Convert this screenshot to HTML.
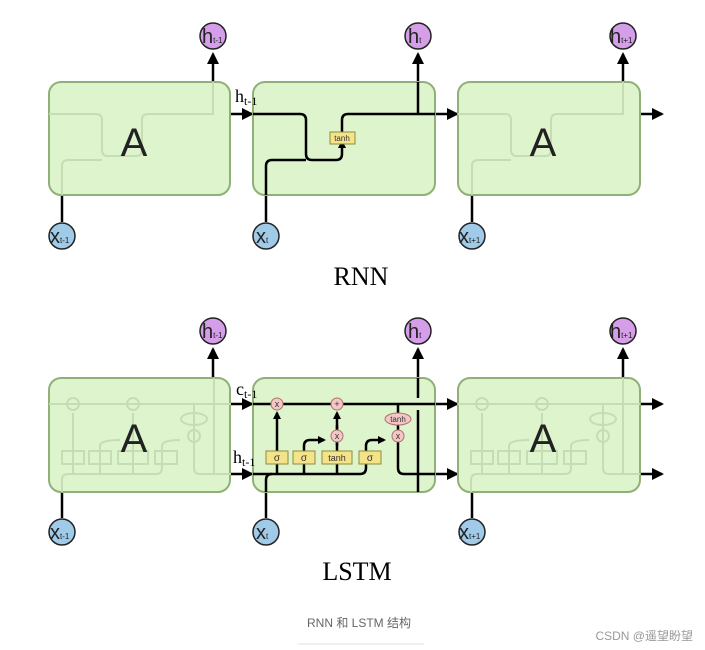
<!DOCTYPE html>
<html><head><meta charset="utf-8"><style>
body{margin:0;background:#fff;width:705px;height:650px;overflow:hidden}
svg{display:block}
</style></head><body>
<svg width="705" height="650" viewBox="0 0 705 650" xmlns="http://www.w3.org/2000/svg" font-family="Liberation Sans, sans-serif">
<defs>
<marker id="a" markerWidth="8" markerHeight="8" refX="6" refY="4" orient="auto" markerUnits="userSpaceOnUse"><path d="M0,0 L8,4 L0,8 z" fill="#000"/></marker>
<marker id="b" markerWidth="12" markerHeight="12" refX="10" refY="6" orient="auto" markerUnits="userSpaceOnUse"><path d="M0,0 L12,6 L0,12 z" fill="#000"/></marker>
</defs>
<g stroke="#000" stroke-width="2.5" fill="none">
<line x1="213" y1="82" x2="213" y2="54" marker-end="url(#b)"/>
<line x1="418" y1="114" x2="418" y2="54" marker-end="url(#b)"/>
<line x1="623" y1="82" x2="623" y2="54" marker-end="url(#b)"/>
<line x1="230" y1="114" x2="252" y2="114" marker-end="url(#b)"/>
<line x1="435" y1="114" x2="457" y2="114" marker-end="url(#b)"/>
<line x1="640" y1="114" x2="662" y2="114" marker-end="url(#b)"/>
<line x1="62" y1="195" x2="62" y2="222"/>
<line x1="472" y1="195" x2="472" y2="222"/>
<line x1="266" y1="195" x2="266" y2="222"/>
<line x1="213" y1="378" x2="213" y2="349" marker-end="url(#b)"/>
<line x1="623" y1="378" x2="623" y2="349" marker-end="url(#b)"/>
<line x1="418" y1="378" x2="418" y2="349" marker-end="url(#b)"/>
<line x1="230" y1="404" x2="252" y2="404" marker-end="url(#b)"/>
<line x1="230" y1="474" x2="252" y2="474" marker-end="url(#b)"/>
<line x1="435" y1="404" x2="457" y2="404" marker-end="url(#b)"/>
<line x1="435" y1="474" x2="457" y2="474" marker-end="url(#b)"/>
<line x1="640" y1="404" x2="662" y2="404" marker-end="url(#b)"/>
<line x1="640" y1="474" x2="662" y2="474" marker-end="url(#b)"/>
<line x1="62" y1="492" x2="62" y2="518"/>
<line x1="472" y1="492" x2="472" y2="518"/>
<line x1="266" y1="492" x2="266" y2="518"/>
</g>
<g fill="#def4cd" stroke="#8fb077" stroke-width="2">
<rect x="49" y="82" width="181" height="113" rx="12"/>
<rect x="253" y="82" width="182" height="113" rx="12"/>
<rect x="458" y="82" width="182" height="113" rx="12"/>
<rect x="49" y="378" width="181" height="114" rx="12"/>
<rect x="253" y="378" width="182" height="114" rx="12"/>
<rect x="458" y="378" width="182" height="114" rx="12"/>
</g>
<!-- faint internals -->
<g stroke="#c6dcb4" stroke-width="2" fill="none">
<path d="M49,114 H96 Q102,114 102,120 V150 Q102,156 108,156 H136 Q142,156 142,150 V120 Q142,114 148,114 H213 V82"/>
<path d="M62,195 V166 Q62,160 68,160 H102"/>
<path d="M458,114 H505 Q511,114 511,120 V150 Q511,156 517,156 H545 Q551,156 551,150 V120 Q551,114 557,114 H623 V82"/>
<path d="M472,195 V166 Q472,160 478,160 H511"/>
<g transform="translate(-204,0)">
<path d="M253,404 H435 M266,492 V480 Q266,474 272,474 H360 Q366,474 366,468 V446 Q366,440 384,440 M277,474 V413 M304,474 V446 Q304,440 324,440 M337,474 V413 M398,404 V468 Q398,474 404,474 H435 M418,378 V474"/>
<rect x="266" y="451" width="22" height="13"/><rect x="293" y="451" width="22" height="13"/><rect x="322" y="451" width="30" height="13"/><rect x="359" y="451" width="22" height="13"/>
<circle cx="277" cy="404" r="6"/><circle cx="337" cy="404" r="6"/><circle cx="398" cy="436" r="6"/><ellipse cx="398" cy="419" rx="13" ry="6"/>
</g>
<g transform="translate(205,0)">
<path d="M253,404 H435 M266,492 V480 Q266,474 272,474 H360 Q366,474 366,468 V446 Q366,440 384,440 M277,474 V413 M304,474 V446 Q304,440 324,440 M337,474 V413 M398,404 V468 Q398,474 404,474 H435 M418,378 V474"/>
<rect x="266" y="451" width="22" height="13"/><rect x="293" y="451" width="22" height="13"/><rect x="322" y="451" width="30" height="13"/><rect x="359" y="451" width="22" height="13"/>
<circle cx="277" cy="404" r="6"/><circle cx="337" cy="404" r="6"/><circle cx="398" cy="436" r="6"/><ellipse cx="398" cy="419" rx="13" ry="6"/>
</g>
</g>
<g stroke="#000" stroke-width="2.5" fill="none">
<path d="M253,114 H300 Q306,114 306,120 V154 Q306,160 312,160 H336 Q342,160 342,154 V142" marker-end="url(#a)"/>
<path d="M266,195 V166 Q266,160 272,160 H306"/>
<path d="M342,133 V120 Q342,114 348,114 H435"/>
<line x1="418" y1="114" x2="418" y2="82"/>
<line x1="253" y1="404" x2="435" y2="404"/>
<path d="M266,492 V480 Q266,474 272,474 H360 Q366,474 366,468 V446 Q366,440 372,440 H384" marker-end="url(#a)"/>
<line x1="253" y1="474" x2="272" y2="474"/>
<line x1="277" y1="474" x2="277" y2="413" marker-end="url(#a)"/>
<path d="M304,474 V446 Q304,440 310,440 H324" marker-end="url(#a)"/>
<line x1="337" y1="474" x2="337" y2="413" marker-end="url(#a)"/>
<line x1="337" y1="446" x2="337" y2="425"/>
<line x1="398" y1="404" x2="398" y2="430"/>
<path d="M398,442 V468 Q398,474 404,474 H435"/>
<line x1="418" y1="492" x2="418" y2="410"/>
<line x1="418" y1="398" x2="418" y2="378"/>
</g>
<g stroke="#8c8c3c" stroke-width="1" fill="#f5e38a">
<rect x="330" y="132" width="25" height="12"/>
<rect x="266" y="451" width="22" height="13"/>
<rect x="293" y="451" width="22" height="13"/>
<rect x="322" y="451" width="30" height="13"/>
<rect x="359" y="451" width="22" height="13"/>
</g>
<g font-size="10" text-anchor="middle" fill="#333">
<text x="342" y="141" font-size="8">tanh</text>
<text x="277" y="461">σ</text><text x="304" y="461">σ</text>
<text x="337" y="461" font-size="9">tanh</text><text x="370" y="461">σ</text>
</g>
<g stroke="#b07070" stroke-width="1" fill="#f4c7c7">
<circle cx="277" cy="404" r="6"/><circle cx="337" cy="404" r="6"/>
<circle cx="337" cy="436" r="6"/><circle cx="398" cy="436" r="6"/>
<ellipse cx="398" cy="419" rx="13" ry="6"/>
</g>
<g font-size="9" text-anchor="middle" fill="#333">
<text x="277" y="407">x</text><text x="337" y="407">+</text>
<text x="337" y="439">x</text><text x="398" y="439">x</text>
<text x="398" y="422" font-size="8">tanh</text>
</g>
<g font-size="40" text-anchor="middle" fill="#222">
<text x="134" y="156">A</text><text x="543" y="156">A</text>
<text x="134" y="452">A</text><text x="543" y="452">A</text>
</g>
<g stroke="#222" stroke-width="1.5">
<g fill="#d59ee8">
<circle cx="213" cy="36" r="13"/><circle cx="418" cy="36" r="13"/><circle cx="623" cy="36" r="13"/>
<circle cx="213" cy="331" r="13"/><circle cx="418" cy="331" r="13"/><circle cx="623" cy="331" r="13"/>
</g>
<g fill="#9fcbe8">
<circle cx="62" cy="236" r="13"/><circle cx="266" cy="236" r="13"/><circle cx="472" cy="236" r="13"/>
<circle cx="62" cy="532" r="13"/><circle cx="266" cy="532" r="13"/><circle cx="472" cy="532" r="13"/>
</g>
</g>
<g fill="#222" font-size="20">
<text x="202" y="43">h<tspan font-size="8">t-1</tspan></text>
<text x="408" y="43">h<tspan font-size="8">t</tspan></text>
<text x="610" y="43">h<tspan font-size="8">t+1</tspan></text>
<text x="202" y="338">h<tspan font-size="8">t-1</tspan></text>
<text x="408" y="338">h<tspan font-size="8">t</tspan></text>
<text x="610" y="338">h<tspan font-size="8">t+1</tspan></text>
<text x="50" y="243">x<tspan font-size="8">t-1</tspan></text>
<text x="256" y="243">x<tspan font-size="8">t</tspan></text>
<text x="459" y="243">x<tspan font-size="8">t+1</tspan></text>
<text x="50" y="539">x<tspan font-size="8">t-1</tspan></text>
<text x="256" y="539">x<tspan font-size="8">t</tspan></text>
<text x="459" y="539">x<tspan font-size="8">t+1</tspan></text>
</g>
<g font-family="Liberation Serif, serif" fill="#000">
<text x="235" y="102" font-size="18">h<tspan font-size="12" dy="3">t-1</tspan></text>
<text x="236" y="395" font-size="18">c<tspan font-size="12" dy="3">t-1</tspan></text>
<text x="233" y="463" font-size="18">h<tspan font-size="12" dy="3">t-1</tspan></text>
<text x="361" y="285" font-size="26" text-anchor="middle">RNN</text>
<text x="357" y="580" font-size="26" text-anchor="middle">LSTM</text>
</g>
<text x="359" y="627" font-size="12" fill="#666" text-anchor="middle" font-family="Liberation Sans, Noto Sans CJK SC, sans-serif">RNN 和 LSTM 结构</text>
<line x1="298" y1="644" x2="424" y2="644" stroke="#e0e0e0" stroke-width="1"/>
<text x="693" y="640" font-size="12" fill="#999" text-anchor="end" font-family="Liberation Sans, Noto Sans CJK SC, sans-serif">CSDN @遥望盼望</text>
</svg>
</body></html>
